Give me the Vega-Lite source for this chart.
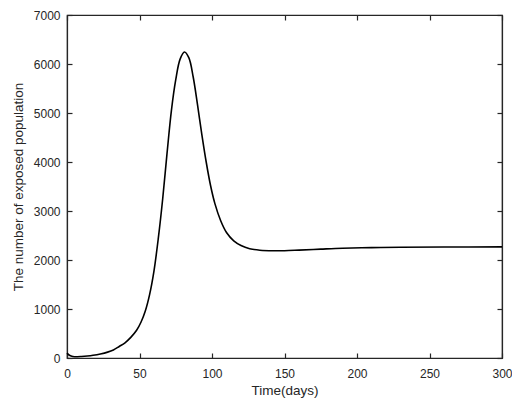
{
  "$schema": "https://vega.github.io/schema/vega-lite/v6.json",
  "width": 435,
  "height": 343,
  "autosize": "none",
  "padding": {"left": 67, "top": 15, "right": 10, "bottom": 45},
  "background": "white",
  "config": {
    "view": {"stroke": "#262626", "strokeWidth": 1.2},
    "axis": {
      "grid": false,
      "domainColor": "#262626",
      "domainWidth": 1.2,
      "tickColor": "#262626",
      "tickWidth": 1.2,
      "tickSize": -5,
      "labelColor": "#262626",
      "labelFont": "Liberation Sans",
      "labelFontSize": 12,
      "labelFlush": false,
      "labelOverlap": false,
      "format": "d",
      "titleFont": "Liberation Sans",
      "titleFontSize": 13.5,
      "titleFontWeight": "normal",
      "titleColor": "#262626"
    }
  },
  "data": {
    "values": [
      {"t": 0, "v": 100}, {"t": 2, "v": 50}, {"t": 4, "v": 32}, {"t": 7, "v": 26},
      {"t": 10, "v": 30}, {"t": 14, "v": 40}, {"t": 18, "v": 55}, {"t": 23, "v": 82},
      {"t": 28, "v": 120}, {"t": 32, "v": 165}, {"t": 36, "v": 235}, {"t": 40, "v": 310},
      {"t": 44, "v": 420}, {"t": 48, "v": 565}, {"t": 51, "v": 730}, {"t": 54, "v": 960},
      {"t": 57, "v": 1300}, {"t": 60, "v": 1780}, {"t": 63, "v": 2450}, {"t": 66, "v": 3250},
      {"t": 69, "v": 4180}, {"t": 72, "v": 5050}, {"t": 75, "v": 5680}, {"t": 78, "v": 6100},
      {"t": 81, "v": 6245}, {"t": 84, "v": 6130}, {"t": 87, "v": 5740}, {"t": 90, "v": 5170},
      {"t": 93, "v": 4560}, {"t": 96, "v": 4000}, {"t": 99, "v": 3520}, {"t": 102, "v": 3150},
      {"t": 106, "v": 2800}, {"t": 110, "v": 2560}, {"t": 115, "v": 2390}, {"t": 120, "v": 2295},
      {"t": 126, "v": 2230}, {"t": 133, "v": 2200}, {"t": 142, "v": 2188}, {"t": 150, "v": 2190},
      {"t": 160, "v": 2202}, {"t": 175, "v": 2222}, {"t": 190, "v": 2240}, {"t": 210, "v": 2252},
      {"t": 230, "v": 2260}, {"t": 260, "v": 2265}, {"t": 300, "v": 2268}
    ]
  },
  "resolve": {"axis": {"x": "independent", "y": "independent"}},
  "layer": [
    {
      "mark": {"type": "line", "color": "black", "strokeWidth": 1.6, "interpolate": "catmull-rom"},
      "encoding": {
        "x": {
          "field": "t", "type": "quantitative",
          "scale": {"domain": [0, 300], "nice": false},
          "axis": {"orient": "bottom", "title": "Time(days)", "values": [0, 50, 100, 150, 200, 250, 300], "labelPadding": 15, "titlePadding": 4}
        },
        "y": {
          "field": "v", "type": "quantitative",
          "scale": {"domain": [0, 7000], "nice": false},
          "axis": {"orient": "left", "title": "The number of exposed population", "values": [0, 1000, 2000, 3000, 4000, 5000, 6000, 7000], "labelPadding": 12, "titlePadding": 8}
        }
      }
    },
    {
      "mark": {"type": "line", "opacity": 0},
      "encoding": {
        "x": {
          "field": "t", "type": "quantitative",
          "axis": {"orient": "top", "labels": false, "title": null, "values": [0, 50, 100, 150, 200, 250, 300]}
        },
        "y": {
          "field": "v", "type": "quantitative",
          "axis": {"orient": "right", "labels": false, "title": null, "values": [0, 1000, 2000, 3000, 4000, 5000, 6000, 7000]}
        }
      }
    }
  ]
}
